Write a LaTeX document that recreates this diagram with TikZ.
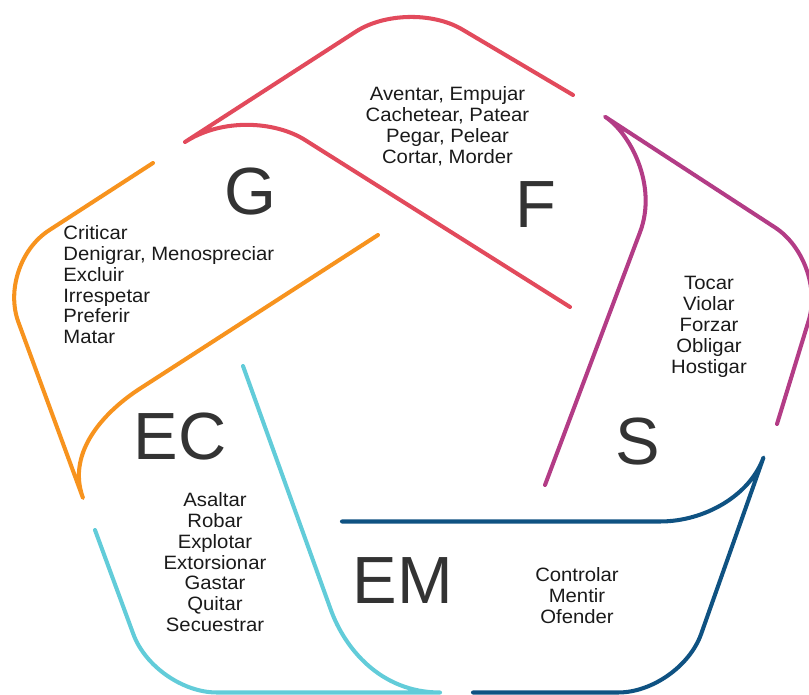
\documentclass[tikz,border=0pt]{standalone}
\usepackage{fontspec}
\setmainfont{Liberation Sans}
\newfontfamily\listfont[FakeStretch=1.05]{Liberation Sans}
\definecolor{petalred}{HTML}{E24A5C}
\definecolor{petalorange}{HTML}{F7931E}
\definecolor{petalcyan}{HTML}{62CCD9}
\definecolor{petalnavy}{HTML}{0F5282}
\definecolor{petalmagenta}{HTML}{B33C86}
\definecolor{lettergray}{HTML}{333333}
\definecolor{wordgray}{HTML}{1A1A1A}

\begin{document}
\begin{tikzpicture}[x=0.02cm, y=-0.02cm, line cap=round, line join=round]
\tikzset{
  petal/.style={
    line width=2.3pt,
  },
  bigletter/.style={
    font=\fontsize{38}{40}\selectfont,
    text=lettergray,
    inner sep=0pt,
  },
  wordlist/.style={
    font=\listfont\fontsize{11}{11.9}\selectfont,
    text=wordgray,
    inner sep=0pt,
    align=center,
  }
}

\useasboundingbox (0,0) rectangle (809,695);
\clip (0,0) rectangle (809,695);

\draw[petal, petalred] (573,95) -- (461.6,29.1) .. controls (432.1,12) and (384.6,13.1) .. (355.9,31.6)
  -- (185,142) .. controls (222.8,117.6) and (275.4,121.3) .. (305,140) -- (570,307);

\draw[petal, petalorange] (153,163) -- (49.1,230.3) .. controls (20.4,248.8) and (6.6,290.2) .. (18.4,322.2)
  -- (83,498) .. controls (65.75,451.1) and (106.4,410.3) .. (140,388.6) -- (378,235);

\draw[petal, petalcyan] (95,530) -- (133.4,634.3) .. controls (145.2,666.3) and (182.7,692.5) .. (216.8,692.5)
  -- (440,692.5) .. controls (380,692.5) and (344.5,647.6) .. (330.9,610) -- (243,366);

\draw[petal, petalnavy] (473,692.5) -- (618.2,692.5) .. controls (652.3,692.5) and (689.6,666.2) .. (701.1,634.1)
  -- (763.5,457.5) .. controls (750,495.2) and (705,521.5) .. (660,521.5) -- (342,521.5);

\draw[petal, petalmagenta] (777,424) -- (808.7,320.6) .. controls (818.7,288) and (803.5,246) .. (774.9,227.4)
  -- (605,116.7) .. controls (630.1,133.1) and (657.7,185.2) .. (640.1,232) -- (545,485);

\node[bigletter] (G) at (250,192) {G};
\node[bigletter] (F) at (536,205) {F};
\node[bigletter] (S) at (638,442) {S};
\node[bigletter] (EC) at (180,437) {EC};
\node[bigletter] (EM) at (403,581) {EM};

\node[wordlist, anchor=north] (Fwords) at (447.5,86) {Aventar, Empujar\\Cachetear, Patear\\Pegar, Pelear\\Cortar, Morder};
\node[wordlist, anchor=north west, align=left] (Gwords) at (63,225) {Criticar\\Denigrar, Menospreciar\\Excluir\\Irrespetar\\Preferir\\Matar};
\node[wordlist, anchor=north] (Swords) at (709,276) {Tocar\\Violar\\Forzar\\Obligar\\Hostigar};
\node[wordlist, anchor=north] (ECwords) at (215,492) {Asaltar\\Robar\\Explotar\\Extorsionar\\Gastar\\Quitar\\Secuestrar};
\node[wordlist, anchor=north] (EMwords) at (577,567) {Controlar\\Mentir\\Ofender};

\end{tikzpicture}
\end{document}
